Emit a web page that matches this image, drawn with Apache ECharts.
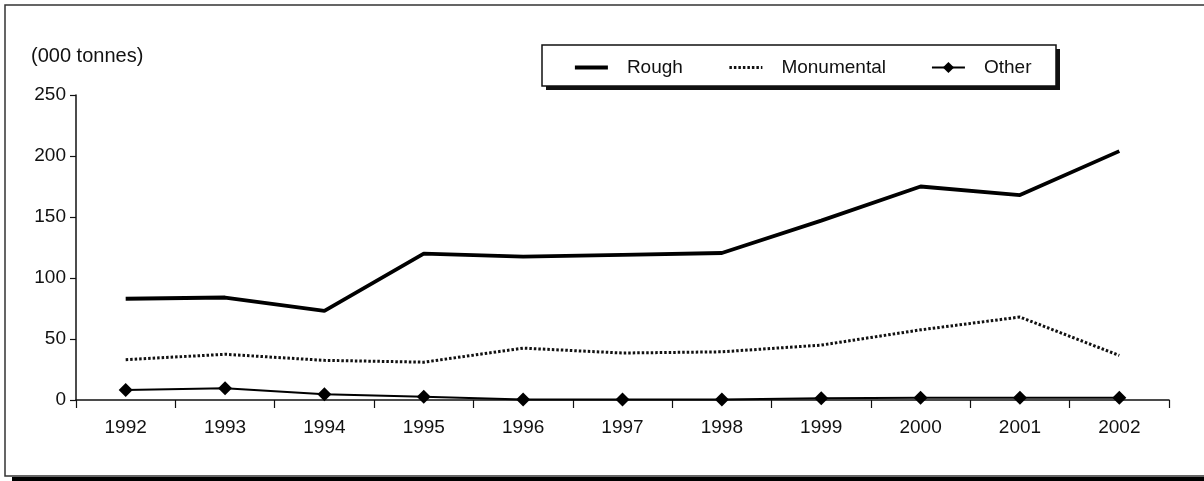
<!DOCTYPE html>
<html>
<head>
<meta charset="utf-8">
<script src="https://cdn.jsdelivr.net/npm/echarts@6/dist/echarts.min.js"></script>
<style>
html,body{margin:0;padding:0;background:#fff;}
#chart{width:1204px;height:481px;}
</style>
</head>
<body>
<div id="chart"></div>
<script>
var years = ['1992','1993','1994','1995','1996','1997','1998','1999','2000','2001','2002'];
var rough = [83, 84, 73, 120, 117.5, 119, 120.5, 147, 175, 168, 204];
var monumental = [33, 37.5, 32.5, 31, 42.5, 38.5, 39.5, 45, 57.5, 68, 36.5];
var other = [8.2, 9.6, 4.7, 2.7, 0.5, 0.5, 0.5, 1.4, 1.9, 1.9, 1.9];
var unitLabel = '(000 tonnes)';
var FONT = 'Liberation Sans, Arial, sans-serif';
var hiddenSymbol = {color:'rgba(0,0,0,0)', borderColor:'rgba(0,0,0,0)', borderWidth:0};

var chart = echarts.init(document.getElementById('chart'), null, {renderer:'canvas'});
chart.setOption({
  animation: false,
  backgroundColor: '#fff',
  textStyle: {fontFamily: FONT},
  graphic: [
    {type:'rect', z:0, shape:{x:12, y:477, width:1200, height:5}, style:{fill:'#000'}},
    {type:'rect', z:0, shape:{x:5, y:5, width:1210, height:471}, style:{fill:'#fff', stroke:'#333', lineWidth:1.5}},
    {type:'rect', z:1, shape:{x:546, y:49, width:514, height:41}, style:{fill:'#111'}},
    {type:'rect', z:1, shape:{x:542, y:45, width:514, height:41}, style:{fill:'#fff', stroke:'#111', lineWidth:1.5}},
    {type:'text', z:2, left:31, top:46, style:{text:unitLabel, font:'20px ' + FONT, fill:'#111'}}
  ],
  legend: {
    left: 573, top: 58, padding: 0,
    itemWidth: 33, itemHeight: 14, itemGap: 45,
    textStyle: {fontSize: 19, color:'#111', padding:[0,0,0,14]},
    data: [
      {name:'Rough', itemStyle: hiddenSymbol, lineStyle:{width:3.8, color:'#000'}},
      {name:'Monumental', itemStyle: hiddenSymbol, lineStyle:{width:3, color:'#111', type:[2.5,2]}},
      {name:'Other', lineStyle:{width:2, color:'#000'}}
    ]
  },
  grid: {left:76, right:35, top:95, bottom:81, containLabel:false},
  xAxis: {
    type:'category', data: years, boundaryGap:true,
    axisLine:{lineStyle:{color:'#111', width:1.5}},
    axisTick:{show:true, length:8, alignWithLabel:false, lineStyle:{color:'#111', width:1.2}},
    axisLabel:{fontSize:19, color:'#111', margin:18}
  },
  yAxis: {
    type:'value', min:0, max:250, interval:50,
    splitLine:{show:false},
    axisLine:{show:true, lineStyle:{color:'#111', width:1.5}},
    axisTick:{show:true, length:6, lineStyle:{color:'#111', width:1.2}},
    axisLabel:{fontSize:19, color:'#111', margin:10}
  },
  series: [
    {name:'Rough', type:'line', data: rough, symbol:'none', lineStyle:{color:'#000', width:3.8}, itemStyle:{color:'#000'}, z:3},
    {name:'Monumental', type:'line', data: monumental, symbol:'none', lineStyle:{color:'#111', width:3, type:[2.5,2]}, itemStyle:{color:'#111'}, z:3},
    {name:'Other', type:'line', data: other, symbol:'diamond', symbolSize:14, showAllSymbol:true, lineStyle:{color:'#000', width:2}, itemStyle:{color:'#000'}, z:4}
  ]
});
</script>
</body>
</html>
